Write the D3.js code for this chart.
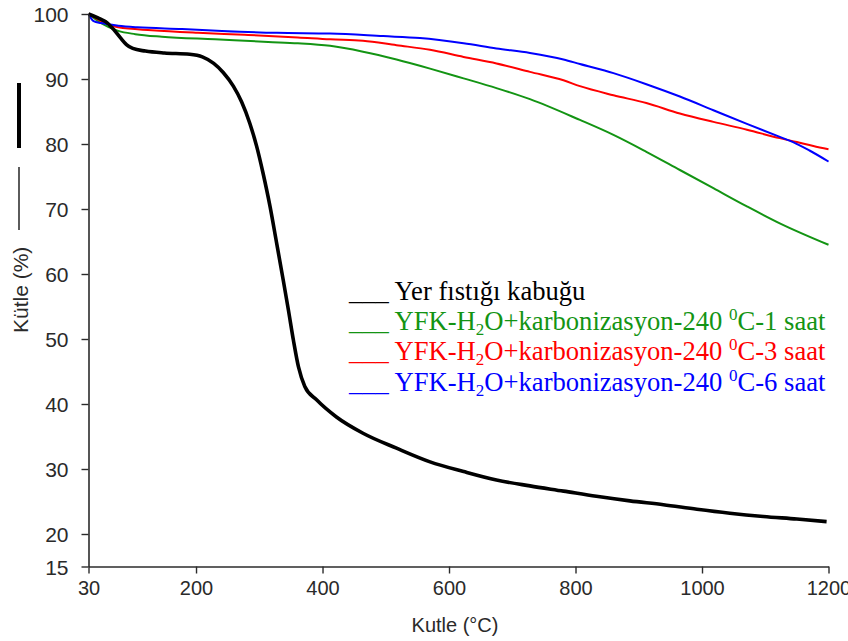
<!DOCTYPE html>
<html><head><meta charset="utf-8">
<script src="https://cdn.jsdelivr.net/npm/d3@7"></script>
<style>
html,body{margin:0;padding:0;background:#fff;}
svg{display:block;}
</style></head>
<body>
<svg id="chart" width="848" height="641"></svg>
<script>
// ---- data ----
const xTicks = [30, 200, 400, 600, 800, 1000, 1200];
const yTicks = [15, 20, 30, 40, 50, 60, 70, 80, 90, 100];

const rawShell = [[30,100],[45,99.4],[60,98.6],[70,97.6],[80,96.4],[90,95.3],[100,94.7],[120,94.3],[150,94.0],[190,93.8],[210,93.4],[228,92.4],[243,91.0],[259,88.9],[272,86.5],[285,83.2],[296,79.6],[306,75.5],[317,70.4],[327,65.0],[338,59.0],[346,54.5],[354,49.8],[362,45.7],[372,42.7],[391,40.6],[422,38.0],[464,35.5],[517,33.2],[570,31.1],[623,29.6],[675,28.3],[728,27.4],[781,26.6],[833,25.8],[886,25.1],[939,24.5],[992,23.8],[1044,23.2],[1097,22.7],[1150,22.3],[1197,21.9]];
const carb1h = [[30,100],[50,98.6],[77,97.4],[104,96.9],[146,96.5],[230,96.1],[314,95.7],[361,95.5],[412,95.1],[464,94.2],[517,93.0],[570,91.6],[623,90.1],[675,88.6],[728,86.9],[807,83.7],[860,81.4],[912,78.8],[965,76.0],[1018,73.2],[1071,70.4],[1123,67.8],[1200,64.5]];
const carb3h = [[30,100],[50,98.9],[77,97.95],[130,97.5],[203,97.1],[277,96.8],[361,96.4],[412,96.1],[464,95.9],[517,95.2],[570,94.5],[623,93.4],[675,92.4],[728,91.1],[781,89.8],[807,88.9],[860,87.5],[912,86.3],[965,84.7],[1018,83.4],[1071,82.2],[1123,80.9],[1150,80.3],[1176,79.7],[1200,79.2]];
const carb6h = [[30,100],[38,98.9],[50,98.6],[77,98.2],[107,97.95],[178,97.7],[241,97.4],[328,97.1],[412,97.0],[496,96.6],[554,96.3],[623,95.5],[675,94.7],[728,94.0],[781,93.0],[807,92.3],[860,90.9],[912,89.2],[965,87.3],[1018,85.2],[1071,83.1],[1123,81.1],[1144,80.3],[1170,79.0],[1200,77.3]];

const seriesNames = ["Yer fıstığı kabuğu", "YFK-H2O+karbonizasyon-240 0C-1 saat", "YFK-H2O+karbonizasyon-240 0C-3 saat", "YFK-H2O+karbonizasyon-240 0C-6 saat"];
const seriesColors = ["#000000", "#139413", "#ff0000", "#0000ff"];
const seriesWidths = [3.6, 2, 2, 2];
const seriesData = [rawShell, carb1h, carb3h, carb6h];

// ---- layout ----
const svg = d3.select("#chart");
const x = d3.scaleLinear().domain([30, 1200]).range([88.5, 828.5]);
const y = d3.scaleLinear().domain([15, 100]).range([566.5, 14]);
const axisColor = "#2b2b2b";

const line = d3.line().x(d => x(d[0])).y(d => y(d[1])).curve(d3.curveMonotoneX);
const order = [1, 2, 3, 0];
order.forEach(i => {
  svg.append("path").datum(seriesData[i])
    .attr("d", line).attr("fill", "none")
    .attr("stroke", seriesColors[i]).attr("stroke-width", seriesWidths[i])
    .attr("stroke-linejoin", "round");
});

// axes
const xAxis = d3.axisBottom(x).tickValues(xTicks).tickFormat(d3.format("d")).tickSize(7).tickSizeOuter(0).tickPadding(7);
const gx = svg.append("g").attr("transform", `translate(0,${y(15)})`).call(xAxis);
const yAxis = d3.axisLeft(y).tickValues(yTicks).tickFormat(d3.format("d")).tickSize(7).tickSizeOuter(0).tickPadding(13);
const gy = svg.append("g").attr("transform", `translate(${x(30)},0)`).call(yAxis);
[gx, gy].forEach(g => {
  g.select(".domain").attr("stroke", axisColor).attr("stroke-width", 1.6);
  g.selectAll(".tick line").attr("stroke", axisColor).attr("stroke-width", 1.4);
  g.selectAll(".tick text").attr("fill", "#2a2a2a")
    .style("font-family", "'Liberation Sans', Arial, sans-serif").style("font-size", "20px");
});
gy.selectAll(".tick text").style("font-size", "21px").attr("dy", "0.36em");

// x axis title
svg.append("text").attr("x", 455).attr("y", 632).attr("text-anchor", "middle")
  .attr("fill", "#2a2a2a").style("font-family", "'Liberation Sans', Arial, sans-serif").style("font-size", "20px")
  .text("Kutle (°C)");

// y axis title with line keys
svg.append("text").attr("transform", "translate(28,333) rotate(-90)")
  .attr("fill", "#2a2a2a").style("font-family", "'Liberation Sans', Arial, sans-serif").style("font-size", "21px")
  .text("Kütle (%)");
svg.append("line").attr("x1", 19).attr("x2", 19).attr("y1", 167).attr("y2", 230)
  .attr("stroke", "#333").attr("stroke-width", 1.6);
svg.append("line").attr("x1", 19).attr("x2", 19).attr("y1", 83).attr("y2", 148)
  .attr("stroke", "#000").attr("stroke-width", 4);

// legend
const legendY = [300, 330, 360, 391];
seriesNames.forEach((name, i) => {
  const t = svg.append("text").attr("x", 349).attr("y", legendY[i])
    .attr("fill", seriesColors[i])
    .style("font-family", "'Liberation Serif', 'Times New Roman', serif").style("font-size", "26.6px");
  if (i === 0) { t.text("___ " + name); return; }
  const m = name.match(/^(YFK-H)2(O\+karbonizasyon-240 )0(C-\d saat)$/);
  t.append("tspan").text("___ " + m[1]);
  t.append("tspan").attr("dy", 5).style("font-size", "17px").text("2");
  t.append("tspan").attr("dy", -5).text(m[2]);
  t.append("tspan").attr("dy", -10).style("font-size", "17px").text("0");
  t.append("tspan").attr("dy", 10).text(m[3]);
});
</script>
</body></html>
